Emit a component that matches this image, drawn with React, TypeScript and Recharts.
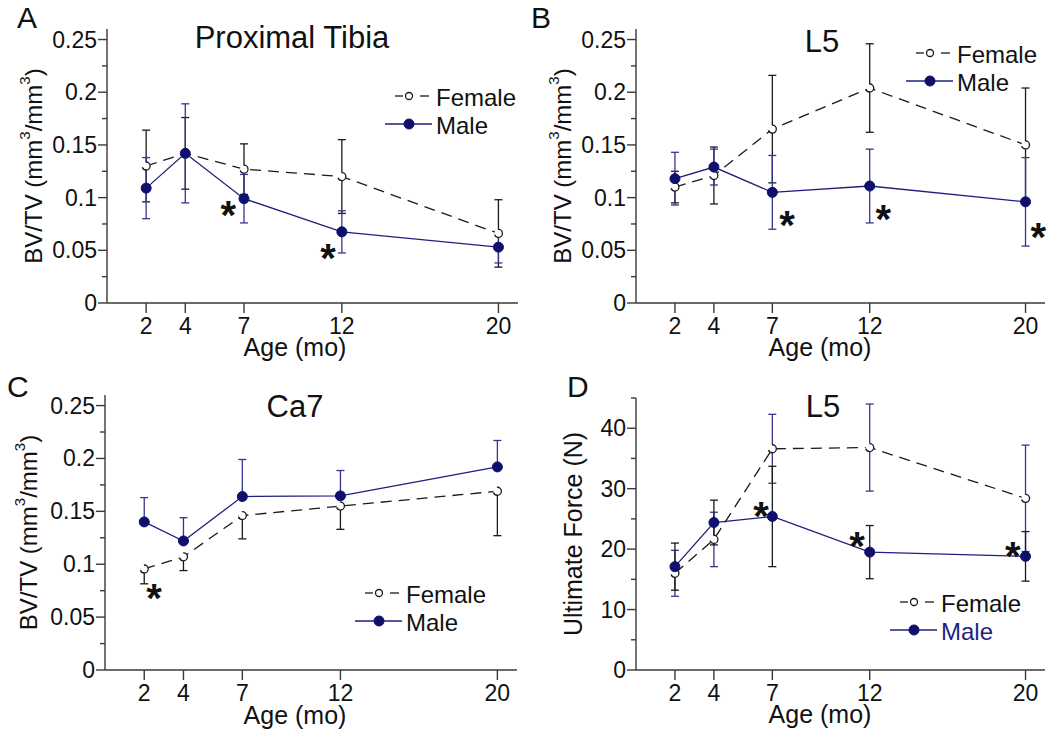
import React from 'react';
import { LineChart, Line, XAxis, YAxis, ErrorBar, ReferenceDot, Legend } from 'recharts';

// shared x categories (age in months)
const ages = [2, 4, 7, 12, 20];
const bvTicks = [0, 0.025, 0.05, 0.075, 0.1, 0.125, 0.15, 0.175, 0.2, 0.225, 0.25];
const forceTicks = [0, 5, 10, 15, 20, 25, 30, 35, 40, 45];

// A - proximal tibia BV/TV
const tibiaFemale = [0.13, 0.142, 0.127, 0.12, 0.066];
const tibiaFemaleErr = [0.034, 0.034, 0.024, 0.035, 0.032];
const tibiaMale = [0.109, 0.142, 0.099, 0.0675, 0.053];
const tibiaMaleErr = [0.029, 0.047, 0.023, 0.02, 0.015];
const tibiaStars = [{ x: 6.2, y: 0.091 }, { x: 11.3, y: 0.05 }];

// B - L5 BV/TV
const l5Female = [0.11, 0.121, 0.165, 0.204, 0.15];
const l5FemaleErr = [0.015, 0.027, 0.051, 0.042, 0.054];
const l5Male = [0.118, 0.129, 0.105, 0.111, 0.096];
const l5MaleErr = [0.025, 0.017, 0.035, 0.035, 0.042];
const l5Stars = [{ x: 7.75, y: 0.082 }, { x: 12.7, y: 0.0875 }, { x: 20.65, y: 0.07 }];

// C - Ca7 BV/TV (female bars drawn down only, male up only)
const ca7Female = [0.0955, 0.107, 0.146, 0.155, 0.169];
const ca7FemaleErr = [0.014, 0.013, 0.022, 0.022, 0.042];
const ca7Male = [0.14, 0.122, 0.164, 0.1646, 0.192];
const ca7MaleErr = [0.023, 0.022, 0.035, 0.024, 0.025];
const ca7Stars = [{ x: 2.5, y: 0.0757 }];

// D - L5 ultimate force (N)
const forceFemale = [16.0, 21.6, 36.6, 36.8, 28.4];
const forceFemaleErr = [3.8, 4.5, 5.7, 7.2, 8.8];
const forceMale = [17.1, 24.4, 25.4, 19.5, 18.8];
const forceMaleErr = [3.9, 3.7, 8.3, 4.4, 4.1];
const forceStars = [{ x: 6.42, y: 26.8 }, { x: 11.35, y: 21.9 }, { x: 19.35, y: 20.2 }];

const W = 525;
const H = 370;
const Y_AXIS_W = 60;
const X_AXIS_H = 40;

const NAVY = '#1f1f80';
const NAVY_DOT = '#0f0f6c';
const NAVY_ERR = '#35358f';
const INK = '#1a1a1a';
const AXIS = '#3a3a3a';
const FONT = '"Liberation Sans", Arial, Helvetica, sans-serif';

const buildRows = (f, fe, m, me) =>
  ages.map((age, i) => ({ age, female: f[i], femaleErr: fe[i], male: m[i], maleErr: me[i] }));

const fmt = (v) => String(Number(v.toFixed(3)));

function YTick(props) {
  const { x, y, payload, step } = props;
  const v = payload.value;
  const major = Math.abs(v / step - Math.round(v / step)) < 1e-6;
  return (
    <g>
      <line x1={x - (major ? 9 : 5)} x2={x} y1={y} y2={y} stroke={AXIS} strokeWidth={1.4} />
      {major && (
        <text x={x - 10} y={y} textAnchor="end" dominantBaseline="central" fontSize={23} fill="#111">
          {fmt(v)}
        </text>
      )}
    </g>
  );
}

function XTick(props) {
  const { x, y, payload } = props;
  return (
    <g>
      <line x1={x} x2={x} y1={y} y2={y + 10} stroke={AXIS} strokeWidth={1.4} />
      <text x={x} y={y + 31} textAnchor="middle" fontSize={23} fill="#111">
        {payload.value}
      </text>
    </g>
  );
}

function AgeLabel({ cy }) {
  return (
    <text x={295} y={cy} textAnchor="middle" fontSize={25} fill="#111">
      Age (mo)
    </text>
  );
}

function BvLabel({ cx, cy }) {
  return (
    <text x={cx} y={cy} transform={`rotate(-90 ${cx} ${cy})`} textAnchor="middle" dominantBaseline="central" fontSize={24} fill="#111">
      BV/TV (mm
      <tspan dy={-9} fontSize={15}>3</tspan>
      <tspan dy={9}>/mm</tspan>
      <tspan dy={-9} fontSize={15}>3</tspan>
      <tspan dy={9}>)</tspan>
    </text>
  );
}

function ForceLabel({ cx, cy }) {
  return (
    <text x={cx} y={cy} transform={`rotate(-90 ${cx} ${cy})`} textAnchor="middle" dominantBaseline="central" fontSize={25} fill="#111">
      Ultimate Force (N)
    </text>
  );
}

function LegendBox({ maleText }) {
  return (
    <svg width={150} height={64} style={{ overflow: 'visible' }}>
      <line x1={12} x2={20} y1={16} y2={16} stroke={INK} strokeWidth={1.3} />
      <line x1={37} x2={46} y1={16} y2={16} stroke={INK} strokeWidth={1.3} />
      <circle cx={26} cy={16} r={3.5} fill="#fff" stroke={INK} strokeWidth={1.3} />
      <text x={53} y={26} fontSize={24} fill="#111" fontFamily={FONT}>Female</text>
      <line x1={2} x2={49} y1={44} y2={44} stroke={NAVY} strokeWidth={1.3} />
      <circle cx={26} cy={44} r={5} fill={NAVY_DOT} stroke={NAVY_DOT} />
      <text x={53} y={54} fontSize={24} fill={maleText} fontFamily={FONT}>Male</text>
    </svg>
  );
}

const Star = (p) => (
  <text x={p.cx} y={p.cy + 22} textAnchor="middle" fontSize={40} fontWeight="bold" fill="#111">
    *
  </text>
);

function Panel({ cfg }) {
  const { left, right, top, bottom } = cfg.frame;
  const margin = { top, right: W - right, left: left - Y_AXIS_W, bottom: H - bottom - X_AXIS_H };
  const midY = (top + bottom) / 2;
  return (
    <div style={{ position: 'absolute', left: cfg.x, top: cfg.y, width: W, height: H }}>
      <LineChart width={W} height={H} data={cfg.rows} margin={margin}>
        <XAxis
          dataKey="age"
          type="number"
          domain={[0, 21]}
          ticks={ages}
          interval={0}
          tickSize={0}
          tickMargin={0}
          height={X_AXIS_H}
          axisLine={{ stroke: AXIS, strokeWidth: 1.4 }}
          tickLine={false}
          tick={(p) => <XTick {...p} />}
          label={<AgeLabel cy={cfg.ageY} />}
        />
        <YAxis
          type="number"
          domain={cfg.yDomain}
          ticks={cfg.yTicks}
          interval={0}
          tickSize={0}
          tickMargin={0}
          width={Y_AXIS_W}
          axisLine={{ stroke: AXIS, strokeWidth: 1.4 }}
          tickLine={false}
          tick={(p) => <YTick {...p} step={cfg.step} />}
          label={cfg.force ? <ForceLabel cx={cfg.yLabelX} cy={midY} /> : <BvLabel cx={cfg.yLabelX} cy={midY} />}
        />
        <Legend
          verticalAlign="middle"
          align="center"
          layout="horizontal"
          wrapperStyle={{ position: 'absolute', left: cfg.legend[0], top: cfg.legend[1], width: 150, height: 64 }}
          content={() => <LegendBox maleText={cfg.force ? NAVY : '#111'} />}
        />
        <Line
          dataKey="female"
          name="Female"
          stroke={INK}
          strokeWidth={1.3}
          strokeDasharray="11 7"
          dot={{ r: 4, fill: '#fff', stroke: INK, strokeWidth: 1.3 }}
          isAnimationActive={false}
        >
          <ErrorBar dataKey="femaleErr" direction="y" width={4} stroke={cfg.force ? NAVY_ERR : INK} strokeWidth={1.3} isAnimationActive={false} />
        </Line>
        <Line
          dataKey="male"
          name="Male"
          stroke={NAVY}
          strokeWidth={1.3}
          dot={{ r: 5, fill: NAVY_DOT, stroke: NAVY_DOT, strokeWidth: 1 }}
          isAnimationActive={false}
        >
          <ErrorBar dataKey="maleErr" direction="y" width={4} stroke={cfg.force ? INK : NAVY_ERR} strokeWidth={1.3} isAnimationActive={false} />
        </Line>
        {cfg.stars.map((s, i) => (
          <ReferenceDot key={i} x={s.x} y={s.y} r={0} shape={Star} ifOverflow="visible" />
        ))}
      </LineChart>
    </div>
  );
}

const panels = [
  {
    x: 0, y: 0,
    frame: { left: 107, right: 518, top: 29, bottom: 303 },
    rows: buildRows(tibiaFemale, tibiaFemaleErr, tibiaMale, tibiaMaleErr),
    yDomain: [0, 0.26], yTicks: bvTicks, step: 0.05,
    yLabelX: 33, ageY: 356, legend: [383, 80], stars: tibiaStars,
  },
  {
    x: 525, y: 0,
    frame: { left: 111, right: 520, top: 29, bottom: 303 },
    rows: buildRows(l5Female, l5FemaleErr, l5Male, l5MaleErr),
    yDomain: [0, 0.26], yTicks: bvTicks, step: 0.05,
    yLabelX: 37, ageY: 356, legend: [379, 37], stars: l5Stars,
  },
  {
    x: 0, y: 370,
    frame: { left: 105, right: 517, top: 25, bottom: 300 },
    rows: buildRows(
      ca7Female, ca7FemaleErr.map((e) => [e, 0]),
      ca7Male, ca7MaleErr.map((e) => [0, e])
    ),
    yDomain: [0, 0.26], yTicks: bvTicks, step: 0.05,
    yLabelX: 28, ageY: 354, legend: [353, 207], stars: ca7Stars,
  },
  {
    x: 525, y: 370,
    frame: { left: 111, right: 520, top: 28, bottom: 300 },
    rows: buildRows(forceFemale, forceFemaleErr, forceMale, forceMaleErr),
    yDomain: [0, 45], yTicks: forceTicks, step: 10,
    yLabelX: 48, ageY: 353, legend: [363, 216], stars: forceStars, force: true,
  },
];

const letters = [
  { t: 'A', x: 17, y: 28 },
  { t: 'B', x: 531, y: 28 },
  { t: 'C', x: 7, y: 397 },
  { t: 'D', x: 567, y: 397 },
];

const titles = [
  { t: 'Proximal Tibia', x: 292, y: 48 },
  { t: 'L5', x: 822, y: 52 },
  { t: 'Ca7', x: 295, y: 417 },
  { t: 'L5', x: 823, y: 417 },
];

export default function App() {
  return (
    <div style={{ position: 'absolute', left: 0, top: 0, width: 1050, height: 740, background: '#fff', fontFamily: FONT }}>
      {panels.map((cfg, i) => (
        <Panel key={i} cfg={cfg} />
      ))}
      <svg width={1050} height={740} style={{ position: 'absolute', left: 0, top: 0, pointerEvents: 'none' }}>
        {letters.map((l) => (
          <text key={l.t} x={l.x} y={l.y} fontSize={30} fill="#111" fontFamily={FONT}>
            {l.t}
          </text>
        ))}
        {titles.map((t, i) => (
          <text key={i} x={t.x} y={t.y} textAnchor="middle" fontSize={31} fill="#111" fontFamily={FONT}>
            {t.t}
          </text>
        ))}
      </svg>
    </div>
  );
}
